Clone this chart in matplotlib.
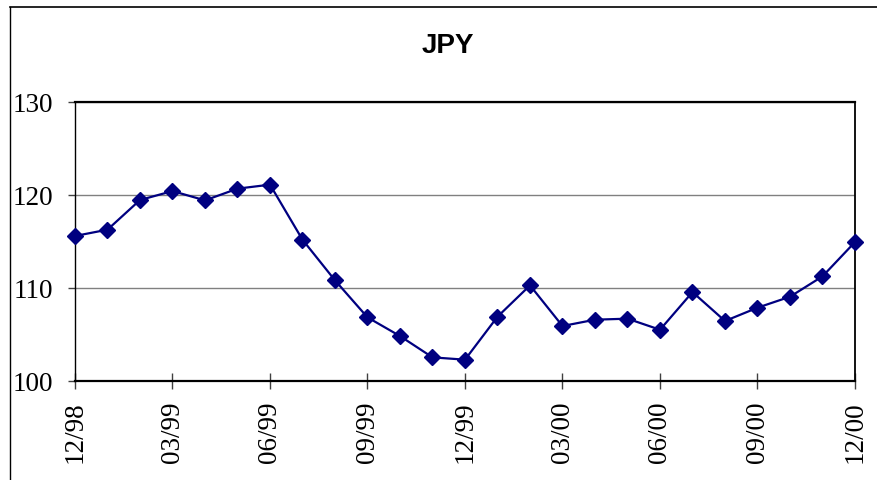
import matplotlib
matplotlib.use("Agg")
import matplotlib.pyplot as plt
from matplotlib.lines import Line2D

# Monthly JPY rate, Dec 1998 - Dec 2000
months = ["12/98", "01/99", "02/99", "03/99", "04/99", "05/99", "06/99",
          "07/99", "08/99", "09/99", "10/99", "11/99", "12/99",
          "01/00", "02/00", "03/00", "04/00", "05/00", "06/00",
          "07/00", "08/00", "09/00", "10/00", "11/00", "12/00"]
jpy = [115.56, 116.24, 119.43, 120.39, 119.39, 120.65, 121.08,
       115.16, 110.79, 106.81, 104.80, 102.51, 102.26,
       106.88, 110.25, 105.88, 106.56, 106.67, 105.48,
       109.53, 106.42, 107.85, 109.03, 111.22, 114.91]
y_ticks = [100, 110, 120, 130]

W, H = 878, 481
fig = plt.figure(figsize=(W / 100, H / 100), dpi=100)
fig.patch.set_facecolor("white")

# outer chart frame (top and left edges)
fig.add_artist(Line2D([10 / W, 10 / W], [0, 1 - 8 / H], transform=fig.transFigure,
                      color="black", lw=1.0))
fig.add_artist(Line2D([10 / W, 1], [1 - 8 / H, 1 - 8 / H], transform=fig.transFigure,
                      color="black", lw=1.2))

ax = fig.add_axes([75 / W, 1 - 381.7 / H, (855 - 75) / W, (381.7 - 102.7) / H])

x = list(range(len(months)))
ax.plot(x, jpy, color="#000080", lw=1.6, marker="D", markersize=8.2,
        markerfacecolor="#000080", markeredgecolor="#000080", mew=1, zorder=3,
        clip_on=False)

ax.set_xlim(0, len(months) - 1)
ax.set_ylim(100, 130)
ax.set_yticks(y_ticks)
ax.set_yticklabels([str(v) for v in y_ticks], fontfamily="Liberation Serif", fontsize=19.5)
tick_pos = x[::3]
ax.set_xticks(tick_pos)
ax.set_xticklabels([months[i] for i in tick_pos], rotation=90,
                   fontfamily="Liberation Serif", fontsize=19.5)

ax.yaxis.grid(True, color="#808080", lw=1.0)
ax.set_axisbelow(True)

ax.tick_params(axis="y", direction="out", length=5, width=1, color="#404040", pad=10.5)
ax.tick_params(axis="x", direction="inout", length=12, width=1, color="#404040", pad=8)

for side, w in [("left", 1.0), ("bottom", 1.6), ("top", 1.6), ("right", 1.3)]:
    ax.spines[side].set_color("black")
    ax.spines[side].set_linewidth(w)

fig.text(448 / W, 1 - 46 / H, "JPY", ha="center", va="center",
         fontfamily="Liberation Sans", fontweight="bold", fontsize=20)

fig.savefig("out.png", dpi=100, facecolor="white")
